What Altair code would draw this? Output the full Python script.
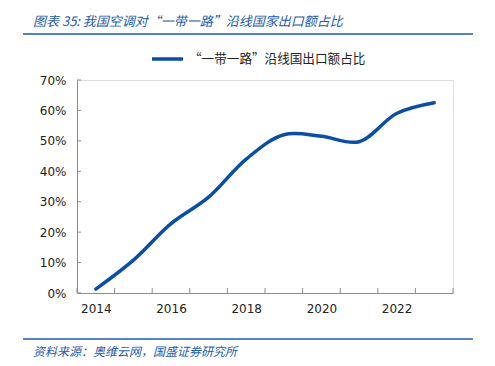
import altair as alt
import pandas as pd

years = [2014, 2015, 2016, 2017, 2018, 2019, 2020, 2021, 2022, 2023]
share = [0.013, 0.108, 0.228, 0.315, 0.440, 0.520, 0.515, 0.497, 0.590, 0.625]
x_labels = [2014, 2016, 2018, 2020, 2022]
y_ticks = [0, 0.1, 0.2, 0.3, 0.4, 0.5, 0.6, 0.7]
series_name = "“一带一路”沿线国出口额占比"
title_text = "图表 35:  我国空调对“一带一路”沿线国家出口额占比"
source_text = "资料来源：奥维云网，国盛证券研究所"

LINE = "#0B4EA2"
BLUE = "#1F5BA8"
TXT = "#222222"
AX = "#8C8C8C"

df = pd.DataFrame({"year": years, "share": share})
edges = pd.DataFrame({"edge": [y - 0.5 for y in years] + [years[-1] + 0.5]})
yt = pd.DataFrame({"v": y_ticks})

W, H = 376, 213

xscale = alt.Scale(domain=[years[0] - 0.5, years[-1] + 0.5], nice=False, zero=False)
yscale = alt.Scale(domain=[0, 0.7], nice=False)

xaxis = alt.Axis(values=x_labels, format="d", ticks=False, grid=False,
                 domainColor=AX, labelPadding=10, labelFontSize=12,
                 labelColor=TXT, labelFont="DejaVu Sans", labelOverlap=False)
yaxis = alt.Axis(values=y_ticks, format=".0%", ticks=False, grid=False,
                 domainColor=AX, labelPadding=11, labelFontSize=12,
                 labelColor=TXT, labelFont="DejaVu Sans", labelOverlap=False)

line = alt.Chart(df).mark_line(
    color=LINE, strokeWidth=3.5, interpolate="catmull-rom", strokeCap="round"
).encode(
    x=alt.X("year:Q", scale=xscale, title=None, axis=xaxis),
    y=alt.Y("share:Q", scale=yscale, title=None, axis=yaxis),
)

xticks = alt.Chart(edges).mark_rule(color=AX, strokeWidth=1).encode(
    x=alt.X("edge:Q", scale=xscale, title=None, axis=xaxis),
    y=alt.value(H),
    y2=alt.value(H - 5),
)

yticks = alt.Chart(yt).mark_rule(color=AX, strokeWidth=1).encode(
    y=alt.Y("v:Q", scale=yscale, title=None, axis=yaxis),
    x=alt.value(0),
    x2=alt.value(4),
)

base = alt.Chart(pd.DataFrame({"a": [0]}))

title = base.mark_text(
    text=title_text, align="left", baseline="middle", fontSize=13,
    fontStyle="italic", color=BLUE, font="Noto Sans CJK SC"
).encode(x=alt.value(-44), y=alt.value(-58))

top_rule = base.mark_rule(color=BLUE, strokeWidth=1.5).encode(
    x=alt.value(-54), x2=alt.value(396), y=alt.value(-46))

legend_line = base.mark_rule(color=LINE, strokeWidth=3.5).encode(
    x=alt.value(75), x2=alt.value(106), y=alt.value(-21))

legend_text = base.mark_text(
    text=series_name, align="left", baseline="middle", fontSize=12.6,
    color=TXT, font="Noto Sans CJK SC"
).encode(x=alt.value(112), y=alt.value(-21))

bottom_rule = base.mark_rule(color=BLUE, strokeWidth=1.5).encode(
    x=alt.value(-54), x2=alt.value(396), y=alt.value(259))

source = base.mark_text(
    text=source_text, align="left", baseline="middle", fontSize=12,
    fontStyle="italic", color=BLUE, font="Noto Sans CJK SC"
).encode(x=alt.value(-44), y=alt.value(272))

chart = alt.layer(
    line, xticks, yticks, title, top_rule, legend_line, legend_text, bottom_rule, source
).properties(
    width=W, height=H,
    autosize=alt.AutoSizeParams(type="none"),
    padding={"left": 69, "top": 72, "right": 34, "bottom": 65},
).configure_view(stroke=None, clip=False).configure(background="white")

chart.save("out.html", embed_options={"renderer": "svg", "actions": False})
